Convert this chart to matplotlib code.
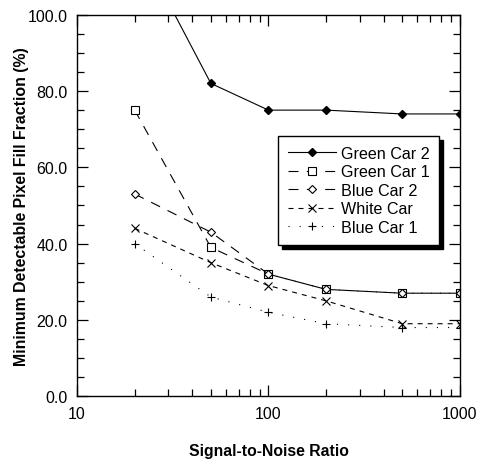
import matplotlib
matplotlib.use("Agg")
import matplotlib.pyplot as plt
from matplotlib.ticker import FixedLocator, NullFormatter, MultipleLocator, FormatStrFormatter, LogLocator

plt.rcParams['font.family'] = ['Liberation Sans', 'DejaVu Sans']

snr = [20, 50, 100, 200, 500, 1000]
green_car_2 = [120, 82, 75, 75, 74, 74]
green_car_1 = [75, 39, 32, 28, 27, 27]
blue_car_2 = [53, 43, 32, 28, 27, 27]
white_car = [44, 35, 29, 25, 19, 19]
blue_car_1 = [40, 26, 22, 19, 18, 18]

fig = plt.figure(figsize=(4.79, 4.64), dpi=100)
ax = fig.add_axes([0.161, 0.144, 0.799, 0.822])

lw = 0.8
ax.plot(snr, green_car_2, color='black', lw=lw, marker='D', ms=4.5, mfc='black', label='Green Car 2')
ax.plot(snr, green_car_1, color='black', lw=lw, ls=(0, (9, 7.5)), marker='s', ms=5.5, mfc='white', mew=0.8, label='Green Car 1')
ax.plot(snr, blue_car_2, color='black', lw=lw, ls=(0, (9, 7.5)), marker='D', ms=4, mfc='white', mew=0.8, label='Blue Car 2')
ax.plot(snr, white_car, color='black', lw=lw, ls=(0, (4.5, 4.5)), marker='x', ms=5.5, mew=0.8, label='White Car')
ax.plot(snr, blue_car_1, color='black', lw=lw, ls=(0, (1, 9)), marker='+', ms=6, mew=0.8, label='Blue Car 1')

ax.set_xscale('log')
ax.set_xlim(10, 1000)
ax.set_ylim(0, 100)
ax.xaxis.set_major_locator(FixedLocator([10, 100, 1000]))
ax.xaxis.set_major_formatter(FormatStrFormatter('%d'))
ax.xaxis.set_minor_locator(LogLocator(base=10, subs=range(2, 10)))
ax.xaxis.set_minor_formatter(NullFormatter())
ax.yaxis.set_major_locator(MultipleLocator(20))
ax.yaxis.set_minor_locator(MultipleLocator(5))
ax.yaxis.set_major_formatter(FormatStrFormatter('%.1f'))

ax.tick_params(which='both', direction='in', top=True, right=True, labelsize=11.5, width=0.9)
ax.tick_params(which='major', length=8, pad=7)
ax.tick_params(which='minor', length=5)
for s in ax.spines.values():
    s.set_linewidth(1.0)

ax.set_xlabel('Signal-to-Noise Ratio', fontsize=11.3, fontweight='bold', labelpad=16)
ax.set_ylabel('Minimum Detectable Pixel Fill Fraction (%)', fontsize=11.4, fontweight='bold', labelpad=-1.5)

leg = ax.legend(loc='upper left', bbox_to_anchor=(0.525, 0.682), borderaxespad=0, fontsize=11.6, frameon=True,
                fancybox=False, shadow={'ox': 3, 'oy': -3, 'color': 'black', 'alpha': 1}, edgecolor='black', framealpha=1,
                handlelength=3.0, handletextpad=0.3, borderpad=0.6, labelspacing=0.22)
leg.get_frame().set_linewidth(1.0)

fig.savefig('out.png', dpi=100)
